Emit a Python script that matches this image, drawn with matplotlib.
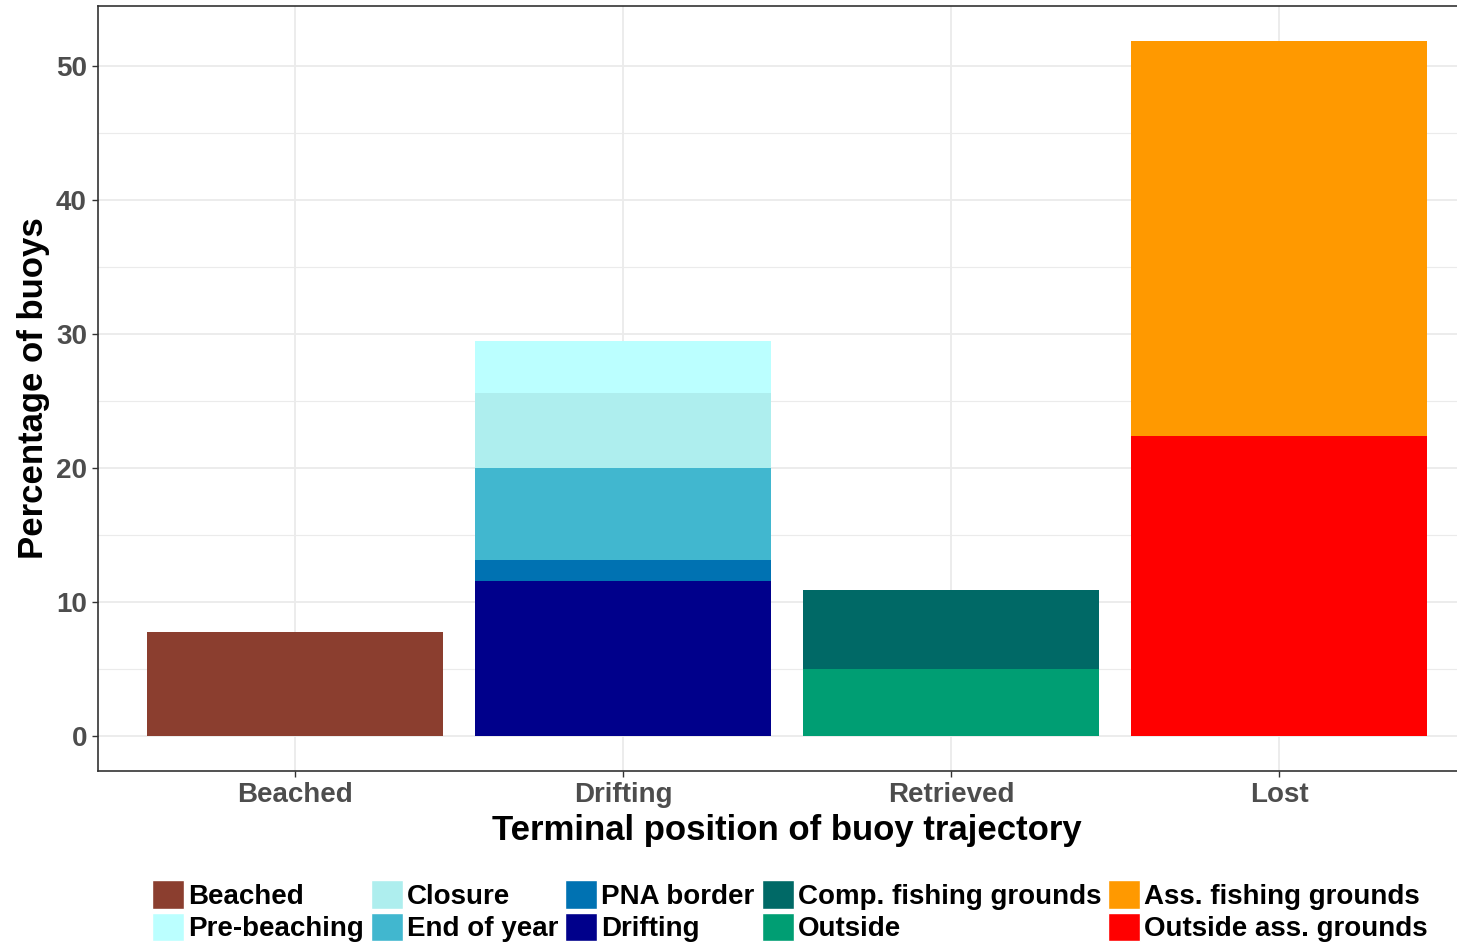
import matplotlib
matplotlib.use("Agg")
import matplotlib.pyplot as plt
from matplotlib.patches import Patch
import numpy as np

categories = ["Beached", "Drifting", "Retrieved", "Lost"]

# series in legend order (stack order bottom->top defined separately)
beached = [7.8, 0, 0, 0]
pre_beaching = [0, 3.9, 0, 0]
closure = [0, 5.6, 0, 0]
end_of_year = [0, 6.9, 0, 0]
pna_border = [0, 1.5, 0, 0]
drifting = [0, 11.6, 0, 0]
comp_fishing = [0, 0, 5.95, 0]
outside = [0, 0, 4.97, 0]
ass_fishing = [0, 0, 0, 29.5]
outside_ass = [0, 0, 0, 22.35]

legend_labels = ["Beached", "Pre-beaching", "Closure", "End of year", "PNA border",
                 "Drifting", "Comp. fishing grounds", "Outside",
                 "Ass. fishing grounds", "Outside ass. grounds"]
series = [beached, pre_beaching, closure, end_of_year, pna_border, drifting,
          comp_fishing, outside, ass_fishing, outside_ass]
colors = ["#8B3E2F", "#BBFFFF", "#AEEEEE", "#41B7CF", "#0072B2", "#00008B",
          "#006966", "#009E73", "#FF9900", "#FF0000"]

# stacking order bottom -> top
stack_order = ["Beached", "Drifting", "PNA border", "End of year", "Closure", "Pre-beaching",
               "Outside", "Comp. fishing grounds", "Outside ass. grounds", "Ass. fishing grounds"]

plt.rcParams['font.family'] = ['Liberation Sans', 'DejaVu Sans']

fig = plt.figure(figsize=(14.57, 9.42), dpi=100)
ax = fig.add_axes([98/1457, 1 - 771/942, (1476 - 98)/1457, (771 - 6)/942])

x = np.arange(len(categories))
bottom = np.zeros(len(categories))
for name in stack_order:
    i = legend_labels.index(name)
    vals = np.array(series[i], dtype=float)
    ax.bar(x, vals, width=0.9, bottom=bottom, color=colors[i], edgecolor='none', zorder=3)
    bottom += vals

ax.set_xlim(-0.6, len(categories) - 1 + 0.6)
ax.set_ylim(-2.6, 54.45)
ax.set_xticks(x)
ax.set_xticklabels(categories)
ax.set_yticks([0, 10, 20, 30, 40, 50])
ax.set_yticks([5, 15, 25, 35, 45], minor=True)
ax.grid(True, which='major', color='#EBEBEB', linewidth=1.3, zorder=0)
ax.grid(True, which='minor', axis='y', color='#EBEBEB', linewidth=0.8, zorder=0)
ax.set_axisbelow(True)
ax.tick_params(axis='both', which='major', length=4, width=1, color='#333333',
               labelsize=20, labelcolor='#4D4D4D', pad=4)
ax.tick_params(axis='y', which='minor', length=0)
for lab in ax.get_xticklabels() + ax.get_yticklabels():
    lab.set_fontweight('bold')
for sp in ax.spines.values():
    sp.set_color('#333333')
    sp.set_linewidth(1.2)

ax.set_xlabel("Terminal position of buoy trajectory", fontsize=25, fontweight='bold',
              color='black', labelpad=4)
ax.set_ylabel("Percentage of buoys", fontsize=25, fontweight='bold', color='black', labelpad=4)

handles = [Patch(facecolor=colors[i], edgecolor='white', linewidth=1) for i in range(len(legend_labels))]
leg = fig.legend(handles, legend_labels, ncol=5, loc='lower left',
                 bbox_to_anchor=(141/1457, -0.012), frameon=False,
                 prop={'size': 20, 'weight': 'bold'},
                 handlelength=1.15, handleheight=1.2, handletextpad=0.15,
                 columnspacing=0.25, labelspacing=0.1, borderaxespad=0)

fig.savefig("out.png", dpi=100)
